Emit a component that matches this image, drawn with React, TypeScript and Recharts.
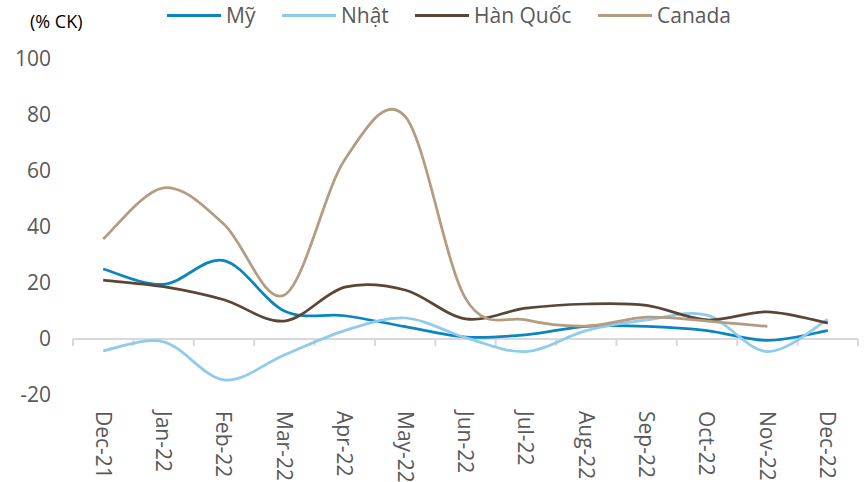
import React from "react";
import { LineChart, Line, XAxis, YAxis, ReferenceLine } from "recharts";

const categories = [
  "Dec-21", "Jan-22", "Feb-22", "Mar-22", "Apr-22", "May-22", "Jun-22",
  "Jul-22", "Aug-22", "Sep-22", "Oct-22", "Nov-22", "Dec-22",
];
const my = [25, 19.5, 28, 10, 8.3, 4.4, 0.7, 1.5, 4.5, 4.5, 3, -0.5, 3];
const nhat = [-4.2, -1, -14.6, -5.7, 3, 7.5, 0.5, -4.5, 3, 6.8, 8.5, -4.5, 7];
const hanQuoc = [21, 18.7, 14, 6.4, 18.5, 17.5, 7.2, 11, 12.5, 12, 6.8, 9.7, 5.7];
const canada = [35.7, 54, 41, 15.7, 64, 79.5, 14.5, 6.8, 4.6, 7.8, 6.4, 4.5, null];
const yTicks = [-20, 0, 20, 40, 60, 80, 100];

const series = [
  { key: "my", name: "Mỹ", color: "#0a85c0", left: 167 },
  { key: "nhat", name: "Nhật", color: "#8ecbed", left: 282 },
  { key: "han", name: "Hàn Quốc", color: "#5b4636", left: 415 },
  { key: "canada", name: "Canada", color: "#b39c80", left: 598 },
];

const FONT = "'Open Sans', sans-serif";

// Excel-like smoothed line (Catmull-Rom through the points)
const smoothCurve = (context: any) => {
  let pts: number[][] = [];
  return {
    areaStart() {},
    areaEnd() {},
    lineStart() {
      pts = [];
    },
    point(x: number, y: number) {
      pts.push([+x, +y]);
    },
    lineEnd() {
      if (!pts.length) return;
      context.moveTo(pts[0][0], pts[0][1]);
      if (pts.length === 2) {
        context.lineTo(pts[1][0], pts[1][1]);
        return;
      }
      for (let i = 0; i < pts.length - 1; i++) {
        const p0 = pts[i - 1] || pts[i];
        const p1 = pts[i];
        const p2 = pts[i + 1];
        const p3 = pts[i + 2] || p2;
        context.bezierCurveTo(
          p1[0] + (p2[0] - p0[0]) / 6,
          p1[1] + (p2[1] - p0[1]) / 6,
          p2[0] - (p3[0] - p1[0]) / 6,
          p2[1] - (p3[1] - p1[1]) / 6,
          p2[0],
          p2[1]
        );
      }
    },
  };
};

const XTick = ({ x, y, payload }: any) => (
  <text
    transform={`translate(${x},${y}) rotate(90)`}
    dy="0.36em"
    textAnchor="start"
    fill="#595959"
    fontSize={21}
    fontFamily={FONT}
  >
    {categories[payload.value]}
  </text>
);

export default function App() {
  const data = categories.map((c, i) => ({
    idx: i,
    name: c,
    my: my[i],
    nhat: nhat[i],
    han: hanQuoc[i],
    canada: canada[i],
  }));
  const boundaries = categories.map((_, i) => i - 0.5).concat(categories.length - 0.5);

  return (
    <div style={{ position: "absolute", left: 0, top: 0, width: 865, height: 482, background: "#fff" }}>
      <div
        style={{
          position: "absolute",
          left: 30,
          top: 9,
          fontFamily: FONT,
          fontSize: 18,
          color: "#000",
        }}
      >
        (% CK)
      </div>
      {series.map((s) => (
        <div
          key={s.key}
          style={{
            position: "absolute",
            left: s.left,
            top: 1,
            display: "flex",
            alignItems: "center",
            fontFamily: FONT,
            fontSize: 21,
            color: "#595959",
          }}
        >
          <span style={{ width: 54, height: 3, background: s.color, marginRight: 5 }} />
          <span>{s.name}</span>
        </div>
      ))}
      <LineChart
        width={865}
        height={482}
        data={data}
        margin={{ top: 59, right: 7, left: 0, bottom: 7 }}
      >
        <XAxis
          dataKey="idx"
          type="number"
          domain={[-0.5, categories.length - 0.5]}
          ticks={categories.map((_, i) => i)}
          interval={0}
          axisLine={false}
          tickLine={false}
          tickSize={0}
          tickMargin={16}
          height={80}
          tick={<XTick />}
        />
        <YAxis
          domain={[-20, 100]}
          ticks={yTicks}
          axisLine={false}
          tickLine={false}
          tickSize={0}
          tickMargin={22}
          width={73}
          tick={{ fill: "#595959", fontSize: 21, fontFamily: FONT }}
        />
        <ReferenceLine y={0} stroke="#d9d9d9" strokeWidth={2} />
        {boundaries.map((b) => (
          <ReferenceLine
            key={b}
            segment={[
              { x: b, y: 0 },
              { x: b, y: -2.5 },
            ]}
            stroke="#d9d9d9"
            strokeWidth={2}
          />
        ))}
        {series.map((s) => (
          <Line
            key={s.key}
            dataKey={s.key}
            name={s.name}
            type={smoothCurve as any}
            stroke={s.color}
            strokeWidth={2.75}
            dot={false}
            activeDot={false}
            isAnimationActive={false}
          />
        ))}
      </LineChart>
    </div>
  );
}
